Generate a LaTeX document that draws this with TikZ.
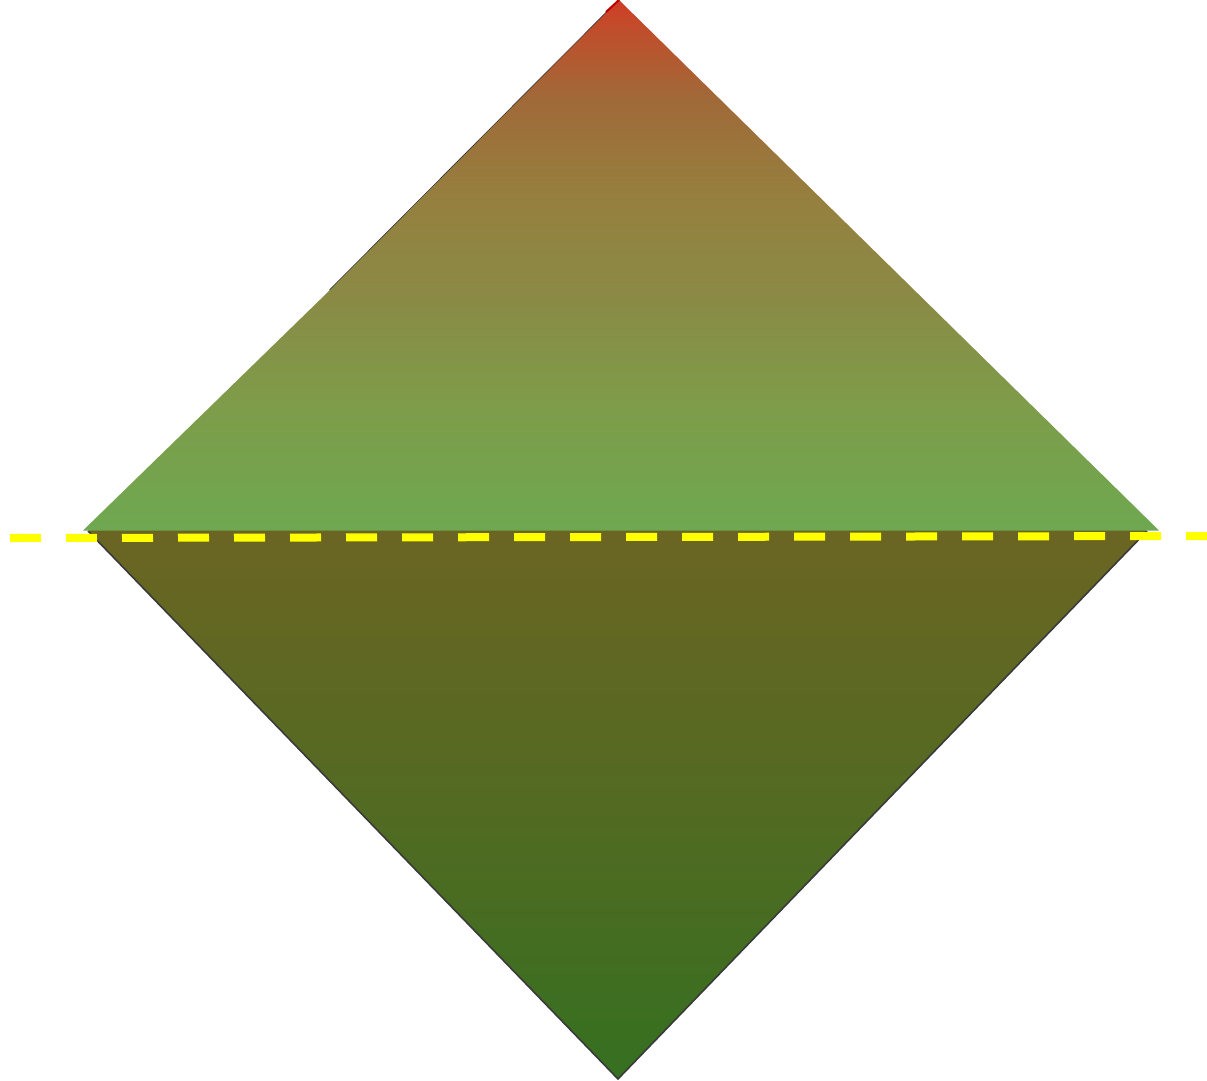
\documentclass[tikz,border=0pt]{standalone}
\usetikzlibrary{shadings}
\definecolor{uA}{HTML}{6EA850}
\definecolor{uB}{HTML}{7E9C4A}
\definecolor{uC}{HTML}{8A8A45}
\definecolor{uD}{HTML}{95803F}
\definecolor{uE}{HTML}{A06A38}
\definecolor{uF}{HTML}{C44A2A}
\definecolor{uG}{HTML}{D03A25}
\definecolor{lTop}{HTML}{6B6522}
\definecolor{lMid}{HTML}{536A22}
\definecolor{lBot}{HTML}{357020}
\definecolor{edge}{HTML}{3A3A3A}
\definecolor{dashy}{HTML}{FFFF00}
\pgfdeclareverticalshading{uppershade}{100bp}{color(0bp)=(uA); color(25bp)=(uA); color(37bp)=(uB); color(47bp)=(uC); color(56bp)=(uD); color(65.6bp)=(uE); color(73bp)=(uF); color(75bp)=(uG); color(100bp)=(uG)}
\tikzset{
  lowertri/.style={top color=lTop, bottom color=lBot, middle color=lMid},
  loweredge/.style={draw=edge, line width=1.6pt, line join=miter},
  uppertri/.style={shading=uppershade},
  rimline/.style={draw=edge, line width=1.6pt, line cap=round},
  tipline/.style={draw=red!75!black, line width=2pt},
  cutline/.style={draw=dashy, line width=8pt, dash pattern=on 31pt off 25pt},
}
\begin{document}
\begin{tikzpicture}[x=1pt,y=-1pt]
\useasboundingbox (0,0) rectangle (1207,1080);
% lower triangle (top slightly tucked under the upper one)
\coordinate (ll) at (88,531);
\coordinate (lr) at (1147,531);
\coordinate (lb) at (618,1079);
\coordinate (lla) at (96,526);
\coordinate (lra) at (1140,526);
\shade[lowertri] (lla) -- (lra) -- (lr) -- (lb) -- (ll) -- cycle;
\draw[loweredge] (ll) -- (lb) -- (lr);
% upper triangle
\coordinate (ut) at (619,0);
\coordinate (ur) at (1159,530.5);
\coordinate (ul) at (83,530.5);
\coordinate (uk) at (330,290);
\draw[rimline] (uk) -- (ut);
\shade[uppertri] (ut) -- (ur) -- (ul) -- (uk) -- cycle;
\coordinate (tp) at (606,12);
\draw[tipline] (tp) -- (ut);
% dashed cut line
\coordinate (d0) at (10,538);
\coordinate (d1) at (1207,536);
\draw[cutline] (d0) -- (d1);
\end{tikzpicture}
\end{document}
